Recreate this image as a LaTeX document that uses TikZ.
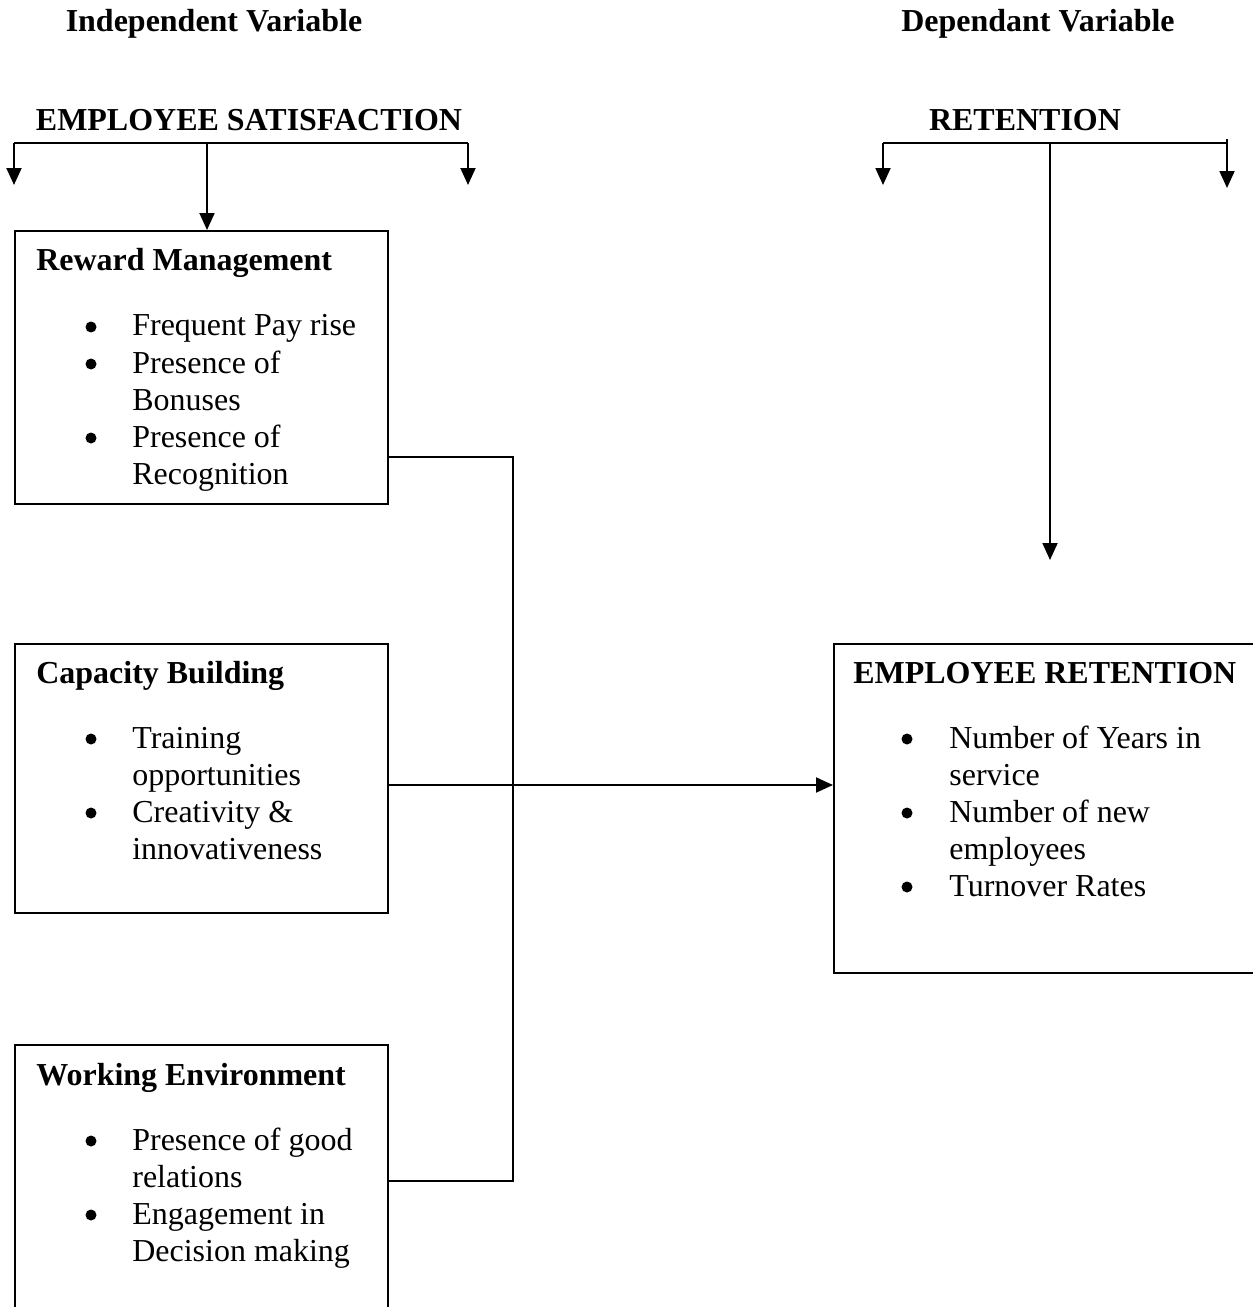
\documentclass[tikz,border=0pt]{standalone}
\usepackage{fontspec}
\setmainfont{Liberation Serif}
\usetikzlibrary{arrows.meta,calc}
\tikzset{
  box/.style={draw, line width=1.1pt, anchor=north west, inner sep=0pt},
  head/.style={font=\bfseries, anchor=base, inner sep=0pt},
  title/.style={font=\bfseries, anchor=base west, inner sep=0pt},
  item/.style={anchor=base west, align=left, inner sep=0pt},
  dot/.style={circle, fill, inner sep=0pt, minimum size=0.22cm},
  link/.style={line width=1.1pt},
  arr/.style={line width=1.1pt, -{Triangle[width=3mm,length=3.4mm]}}
}
\begin{document}
\begin{tikzpicture}[x=0.02cm, y=-0.02cm]
\fontsize{18.2}{22}\selectfont
\useasboundingbox (0,0) rectangle (1252,1307);
% headings
\node[head] (indep) at (214,32) {Independent Variable};
\node[head] (dep) at (1038,32) {Dependant Variable};
\node[head] (sat) at (249,131) {EMPLOYEE SATISFACTION};
\node[head] (ret) at (1025,131) {RETENTION};
% boxes
\node[box, minimum width=7.46cm, minimum height=5.46cm] (reward) at (14,230) {};
\node[box, minimum width=7.46cm, minimum height=5.38cm] (capacity) at (14,643) {};
\node[box, minimum width=7.46cm, minimum height=5.6cm] (work) at (14,1044) {};
\node[box, minimum width=8.6cm, minimum height=6.58cm] (retbox) at (833,643) {};
% reward management
\node[title] (rtitle) at (36,271) {Reward Management};
\node[dot] at (91,327) {};
\node[item] at (132,336) {Frequent Pay rise};
\node[dot] at (91,364) {};
\node[item] at (132,373) {Presence of};
\node[item] at (132,410) {Bonuses};
\node[dot] at (91,438) {};
\node[item] at (132,447) {Presence of};
\node[item] at (132,484) {Recognition};
% capacity building
\node[title] (ctitle) at (36,683) {Capacity Building};
\node[dot] at (91,739) {};
\node[item] at (132,748) {Training};
\node[item] at (132,785) {opportunities};
\node[dot] at (91,813) {};
\node[item] at (132,822) {Creativity \&};
\node[item] at (132,859) {innovativeness};
% working environment
\node[title] (wtitle) at (36,1085) {Working Environment};
\node[dot] at (91,1141) {};
\node[item] at (132,1150) {Presence of good};
\node[item] at (132,1187) {relations};
\node[dot] at (91,1215) {};
\node[item] at (132,1224) {Engagement in};
\node[item] at (132,1261) {Decision making};
% employee retention
\node[title] (etitle) at (853,683) {EMPLOYEE RETENTION};
\node[dot] at (907,739) {};
\node[item] at (949,748) {Number of Years in};
\node[item] at (949,785) {service};
\node[dot] at (907,813) {};
\node[item] at (949,822) {Number of new};
\node[item] at (949,859) {employees};
\node[dot] at (907,887) {};
\node[item] at (949,896) {Turnover Rates};
% satisfaction bracket
\coordinate (sl) at (14,143);
\coordinate (sm) at (207,143);
\coordinate (sr) at (468,143);
\coordinate (slend) at (14,185);
\coordinate (srend) at (468,185);
\draw[link] (sl) -- (sr);
\draw[arr] (sl) -- (slend);
\draw[arr] (sm) -- (sm |- reward.north);
\draw[arr] (sr) -- (srend);
% retention bracket
\coordinate (tl) at (883,143);
\coordinate (tm) at (1050,143);
\coordinate (tr) at (1227,143);
\coordinate (trtop) at (1227,139);
\coordinate (tlend) at (883,185);
\coordinate (trend) at (1227,188);
\coordinate (tmend) at (1050,560);
\draw[link] (tl) -- (tr);
\draw[arr] (tl) -- (tlend);
\draw[arr] (trtop) -- (trend);
\draw[arr] (tm) -- (tmend);
% joining line
\coordinate (j1) at (513,457);
\coordinate (j2) at (513,785);
\coordinate (j3) at (513,1181);
\draw[link] (reward.east |- j1) -- (j1) -- (j3) -- (work.east |- j3);
\draw[arr] (capacity.east |- j2) -- (retbox.west |- j2);
\end{tikzpicture}
\end{document}
